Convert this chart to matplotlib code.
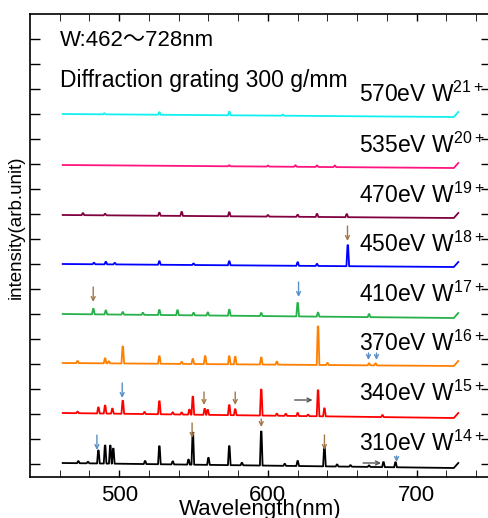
import matplotlib
matplotlib.use("Agg")
import matplotlib.pyplot as plt

plt.rcParams["font.family"] = ["Liberation Sans", "Noto Sans CJK JP", "DejaVu Sans"]
plt.rcParams["mathtext.fontset"] = "custom"
plt.rcParams["mathtext.rm"] = "Liberation Sans"

# --- data ---
labels = ["310eV W$^{\\mathrm{14+}}$", "340eV W$^{\\mathrm{15+}}$", "370eV W$^{\\mathrm{16+}}$",
          "410eV W$^{\\mathrm{17+}}$", "450eV W$^{\\mathrm{18+}}$", "470eV W$^{\\mathrm{19+}}$",
          "535eV W$^{\\mathrm{20+}}$", "570eV W$^{\\mathrm{21+}}$"]
colors = ["#000000", "#ff0000", "#ff8000", "#28b04a", "#0000ff", "#800040", "#ff1480", "#10f0f0"]
base_left = [0.52, 1.52, 2.52, 3.50, 4.50, 5.48, 6.48, 7.50]
base_right = [0.42, 1.42, 2.46, 3.42, 4.44, 5.42, 6.42, 7.44]
x_start, x_end = 462, 728

peaks_310 = [472.5, 479, 486.0, 490.5, 494, 496, 517.4, 527, 536, 546.6, 549.5, 560, 574, 582.5,
             595.5, 611.3, 620, 638, 646.5, 655.5, 668, 677.7, 685.8]
heights_310 = [0.04, 0.03, 0.26, 0.36, 0.36, 0.30, 0.06, 0.36, 0.06, 0.10, 0.64, 0.14, 0.38, 0.05,
               0.68, 0.04, 0.10, 0.40, 0.04, 0.03, 0.03, 0.10, 0.10]
peaks_340 = [472, 486, 490.5, 495.4, 502.4, 517, 527, 536, 542, 547.2, 549.5, 557.5, 559.5, 574,
             578, 595.5, 606, 612, 620, 627, 633.7, 638, 677]
heights_340 = [0.03, 0.12, 0.16, 0.10, 0.26, 0.04, 0.26, 0.04, 0.04, 0.10, 0.36, 0.12, 0.10, 0.20,
               0.12, 0.52, 0.04, 0.04, 0.06, 0.03, 0.52, 0.16, 0.04]
peaks_370 = [472, 490.5, 493, 502.4, 527, 542, 549.5, 557.8, 574, 578, 595.5, 606, 633.7, 640,
             668, 672.4]
heights_370 = [0.04, 0.10, 0.04, 0.34, 0.15, 0.04, 0.10, 0.16, 0.16, 0.15, 0.14, 0.06, 0.77, 0.04,
               0.04, 0.04]
peaks_410 = [482.6, 491, 502.4, 515.9, 527, 539.2, 550, 559.6, 574, 595.5, 620, 633.7, 668]
heights_410 = [0.11, 0.08, 0.05, 0.04, 0.10, 0.10, 0.05, 0.06, 0.12, 0.06, 0.27, 0.08, 0.06]
peaks_450 = [483, 491, 497, 527, 550, 574, 620, 633, 653.7]
heights_450 = [0.03, 0.05, 0.03, 0.07, 0.03, 0.08, 0.07, 0.04, 0.42]
peaks_470 = [475.6, 490.5, 527, 542, 574, 600, 620, 633, 653]
heights_470 = [0.04, 0.03, 0.06, 0.08, 0.08, 0.03, 0.04, 0.06, 0.06]
peaks_535 = [574, 600, 618.5, 633, 645]
heights_535 = [0.02, 0.02, 0.03, 0.03, 0.03]
peaks_570 = [490, 527, 574, 610]
heights_570 = [0.02, 0.05, 0.07, 0.02]

all_peaks = [peaks_310, peaks_340, peaks_370, peaks_410, peaks_450, peaks_470, peaks_535, peaks_570]
all_heights = [heights_310, heights_340, heights_370, heights_410, heights_450, heights_470,
               heights_535, heights_570]

# arrows: (x, y_from, y_to)
down_blue = [(485, 1.08, 0.78), (502, 2.12, 1.82), (620.6, 4.14, 3.84), (667.6, 2.72, 2.58),
             (673, 2.72, 2.58), (686.5, 0.66, 0.54)]
down_brown = [(549, 1.32, 1.02), (595.5, 1.40, 1.24), (638, 1.08, 0.78), (557, 1.94, 1.68),
              (578, 1.94, 1.68), (482.5, 4.04, 3.74), (653.5, 5.26, 4.96)]
right_arrows = [(618, 630, 1.78), (664, 676, 0.52)]


def spectrum(bl, br, peaks, heights):
    slope = (br - bl) / (725 - x_start)
    xs, ys = [x_start], [bl]
    for p, h in sorted(zip(peaks, heights)):
        for dx, dh in ((-0.9, 0), (-0.2, h), (0.2, h), (0.9, 0)):
            xs.append(p + dx)
            ys.append(bl + slope * (p + dx - x_start) + dh)
    xs += [725, x_end]
    ys += [br, br + 0.1]
    return xs, ys


fig = plt.figure(figsize=(4.89, 5.18), dpi=100)
ax = fig.add_axes([30 / 489, 1 - 477 / 518, 461 / 489, 463 / 518])

for i in range(len(labels)):
    xs, ys = spectrum(base_left[i], base_right[i], all_peaks[i], all_heights[i])
    ax.plot(xs, ys, color=colors[i], lw=1.3)
    ax.text(661, base_left[i] + 0.40, labels[i], fontsize=16.5, va="center", ha="left")

arrow_kw = dict(shrinkA=0, shrinkB=0, lw=1.0, mutation_scale=7)
for x, y0, y1 in down_blue:
    ax.annotate("", xy=(x, y1), xytext=(x, y0),
                arrowprops=dict(arrowstyle="->", color="#5b8fc8", **arrow_kw))
for x, y0, y1 in down_brown:
    ax.annotate("", xy=(x, y1), xytext=(x, y0),
                arrowprops=dict(arrowstyle="->", color="#a0784a", **arrow_kw))
for x0, x1, y in right_arrows:
    ax.annotate("", xy=(x1, y), xytext=(x0, y),
                arrowprops=dict(arrowstyle="->", color="#555555", **arrow_kw))

ax.text(460.2, 8.98, "W:462〜728nm", fontsize=16, va="center", ha="left")
ax.text(460.2, 8.18, "Diffraction grating 300 g/mm", fontsize=16.5, va="center", ha="left")

ax.set_xlim(440, 750)
ax.set_ylim(0.24, 9.5)
ax.set_xticks([500, 600, 700])
ax.set_xticks(range(460, 750, 20), minor=True)
ax.set_yticks([i * 0.5 for i in range(1, 19)])
ax.set_yticklabels([])
ax.tick_params(axis="both", direction="in", top=True, right=True, width=1.0)
ax.tick_params(axis="x", which="both", length=5, labelsize=16, pad=6)
ax.tick_params(axis="y", length=7)
ax.tick_params(which="minor", direction="in", top=True, length=5)
for s in ax.spines.values():
    s.set_linewidth(1.2)

ax.set_xlabel("Wavelength(nm)", fontsize=16, labelpad=-5)
ax.set_ylabel("intensity(arb.unit)", fontsize=13.5)
ax.yaxis.set_label_coords(-0.012, 0.54)

fig.savefig("out.png", dpi=100)
